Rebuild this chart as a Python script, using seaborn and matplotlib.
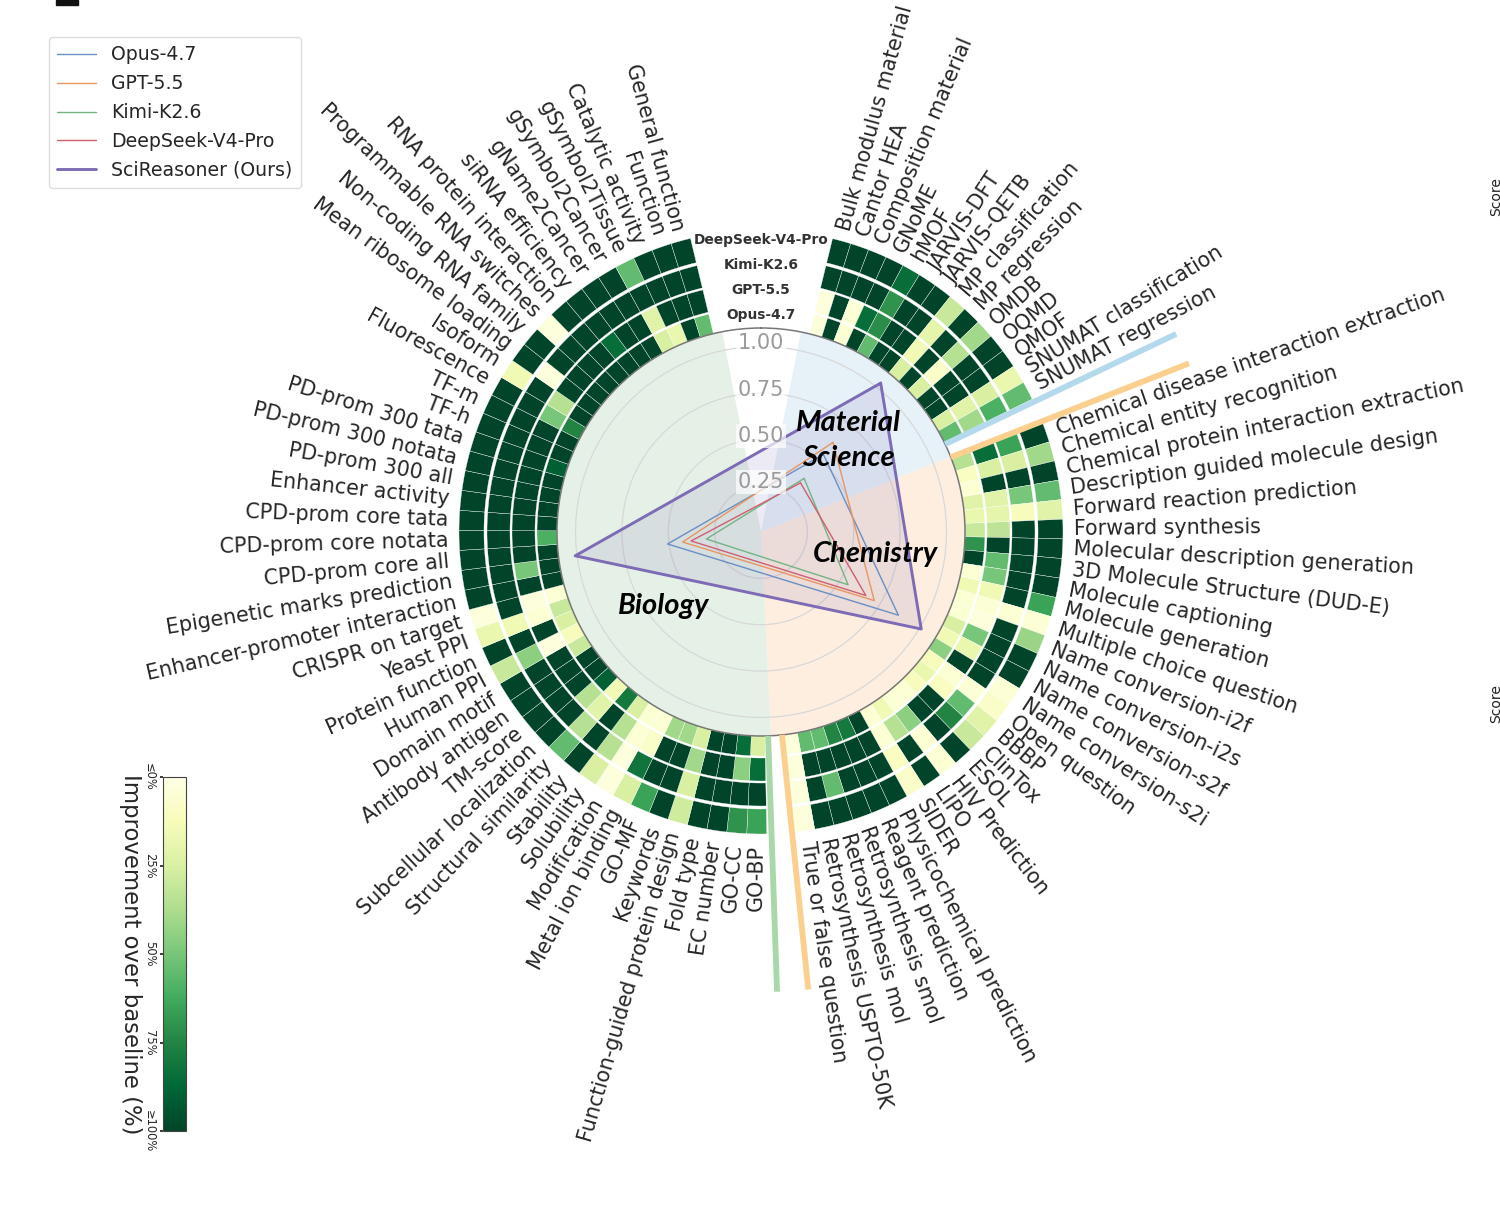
import numpy as np
import matplotlib
matplotlib.use("Agg")
import matplotlib.pyplot as plt
from matplotlib.patches import Rectangle
import seaborn as sns

# ---- data ----
models = ["Opus-4.7", "GPT-5.5", "Kimi-K2.6", "DeepSeek-V4-Pro", "SciReasoner (Ours)"]

material_labels = ["Bulk modulus material", "Cantor HEA", "Composition material", "GNoME", "hMOF",
                   "JARVIS-DFT", "JARVIS-QETB", "MP classification", "MP regression", "OMDB",
                   "OQMD", "QMOF", "SNUMAT classification", "SNUMAT regression"]
chemistry_labels = ["Chemical disease interaction extraction", "Chemical entity recognition",
                    "Chemical protein interaction extraction", "Description guided molecule design",
                    "Forward reaction prediction", "Forward synthesis", "Molecular description generation",
                    "3D Molecule Structure (DUD-E)", "Molecule captioning", "Molecule generation",
                    "Multiple choice question", "Name conversion-i2f", "Name conversion-i2s",
                    "Name conversion-s2f", "Name conversion-s2i", "Open question", "BBBP", "ClinTox",
                    "ESOL", "HIV Prediction", "LIPO", "SIDER", "Physicochemical prediction",
                    "Reagent prediction", "Retrosynthesis smol", "Retrosynthesis mol",
                    "Retrosynthesis USPTO-50K", "True or false question"]
biology_labels = ["GO-BP", "GO-CC", "EC number", "Fold type", "Function-guided protein design", "Keywords",
                  "GO-MF", "Metal ion binding", "Modification", "Solubility", "Stability",
                  "Structural similarity", "Subcellular localization", "TM-score", "Antibody antigen",
                  "Domain motif", "Human PPI", "Protein function", "Yeast PPI", "CRISPR on target",
                  "Enhancer-promoter interaction", "Epigenetic marks prediction", "CPD-prom core all",
                  "CPD-prom core notata", "CPD-prom core tata", "Enhancer activity", "PD-prom 300 all",
                  "PD-prom 300 notata", "PD-prom 300 tata", "TF-h", "TF-m", "Fluorescence", "Isoform",
                  "Mean ribosome loading", "Non-coding RNA family", "Programmable RNA switches",
                  "RNA protein interaction", "siRNA efficiency", "gName2Cancer", "gSymbol2Cancer",
                  "gSymbol2Tissue", "Catalytic activity", "Function", "General function"]

# improvement over baseline (%), clockwise within each field
material_opus = [3, 100, 5, 100, 55, 100, 100, 25, 100, 25, 100, 100, 25, 55]
material_gpt = [3, 100, 5, 85, 72, 100, 100, 15, 100, 8, 100, 100, 22, 40]
material_kimi = [100, 100, 100, 100, 70, 100, 100, 20, 100, 35, 100, 100, 25, 60]
material_deepseek = [100, 100, 100, 100, 85, 100, 100, 30, 100, 40, 100, 100, 18, 55]

chemistry_opus = [35, 10, 5, 22, 18, 30, 70, 100, 5, 15, 5, 5, 25, 15, 45, 12, 18, 12, 5, 5, 15, 5, 100, 80, 75, 55, 55, 3]
chemistry_gpt = [85, 25, 100, 22, 20, 33, 100, 55, 50, 15, 5, 3, 50, 18, 100, 5, 10, 100, 100, 45, 35, 5, 100, 100, 100, 100, 100, 3]
chemistry_kimi = [65, 25, 100, 50, 12, 100, 100, 100, 100, 100, 5, 100, 100, 100, 100, 5, 55, 75, 100, 5, 100, 10, 100, 100, 100, 55, 100, 3]
chemistry_deepseek = [100, 40, 100, 55, 22, 100, 100, 100, 100, 65, 5, 42, 100, 100, 5, 8, 22, 30, 100, 5, 100, 8, 100, 100, 100, 100, 100, 3]

biology_opus = [25, 85, 100, 100, 25, 40, 40, 5, 5, 25, 80, 15, 90, 100, 100, 30, 12, 25, 30, 5, 100, 100,
                100, 60, 100, 100, 100, 100, 90, 100, 100, 75, 100, 100, 100, 100, 100, 100, 100, 100, 25, 18, 100, 55]
biology_gpt = [85, 45, 100, 100, 40, 100, 100, 8, 5, 35, 100, 22, 35, 100, 100, 100, 3, 100, 5, 3, 100, 50,
               100, 100, 100, 100, 100, 100, 100, 100, 100, 50, 35, 100, 100, 100, 100, 85, 100, 100, 22, 100, 100, 100]
biology_kimi = [100, 100, 100, 100, 25, 100, 100, 82, 3, 35, 100, 35, 100, 100, 100, 100, 45, 100, 15, 100, 100, 100,
                100, 100, 100, 100, 100, 100, 100, 100, 100, 100, 100, 3, 100, 100, 100, 100, 100, 100, 100, 100, 100, 100]
biology_deepseek = [65, 70, 100, 100, 28, 100, 65, 25, 3, 25, 100, 55, 100, 100, 100, 100, 30, 100, 18, 3, 100, 100,
                    100, 100, 100, 100, 100, 100, 100, 100, 100, 100, 15, 100, 100, 3, 100, 100, 100, 100, 55, 100, 100, 100]

# radar scores: material, chemistry, biology
radar_opus = [0.537, 0.866, 0.508]
radar_gpt = [0.62, 0.714, 0.426]
radar_kimi = [0.371, 0.549, 0.297]
radar_deepseek = [0.34, 0.661, 0.38]
radar_sci = [1.03, 1.01, 1.01]

rticks = [0.25, 0.50, 0.75, 1.00]
cbar_ticks = [0, 25, 50, 75, 100]
cbar_ticklabels = ["≤0%", "25%", "50%", "75%", "≥100%"]

# ---- layout ----
W, H = 1500, 1218
CX, CY, RPX = 761, 532, 204
RMAX = 1.1
px = RMAX / RPX  # pixels to radial units

sns.set_theme(style="white")
plt.rcParams["font.family"] = ["DejaVu Sans"]

fig = plt.figure(figsize=(W / 100, H / 100), dpi=100)
ax = fig.add_axes([(CX - RPX) / W, 1 - (CY + RPX) / H, 2 * RPX / W, 2 * RPX / H], projection="polar")
ax.set_theta_zero_location("N")
ax.set_theta_direction(-1)
ax.set_ylim(0, RMAX)
ax.set_xticks([])
ax.set_yticks(rticks)
ax.set_yticklabels([])
ax.yaxis.grid(True, color="#d8d8d8", lw=0.9)
ax.xaxis.grid(False)
ax.spines["polar"].set_color("#777777")
ax.spines["polar"].set_linewidth(1.1)
ax.set_facecolor("white")


def fx(x):
    return x / W


def fy(y):
    return 1 - y / H


# field spans in degrees clockwise from north, from the picture
spans = [(13.7, 63.9), (68.9, 173.5), (178.9, 346.5)]
shades = [(11.3, 68.4, "#e6f1f8"), (68.4, 177.2, "#fdeee0"), (177.2, 349.0, "#e5f1e6")]
for a, b, c in shades:
    ax.bar(np.radians((a + b) / 2), RMAX, width=np.radians(b - a), bottom=0, color=c, lw=0, zorder=0.5)

# rings, inner to outer
ring_lo = np.array([204, 226, 251, 277]) * px
ring_hi = np.array([224, 249, 274, 302]) * px
field_rings = [
    [material_opus, material_gpt, material_kimi, material_deepseek],
    [chemistry_opus, chemistry_gpt, chemistry_kimi, chemistry_deepseek],
    [biology_opus, biology_gpt, biology_kimi, biology_deepseek],
]
field_labels = [material_labels, chemistry_labels, biology_labels]
cmap = sns.color_palette("YlGn", as_cmap=True)

for (a, b), rings, labels in zip(spans, field_rings, field_labels):
    step = (b - a) / len(labels)
    centers = a + step * (np.arange(len(labels)) + 0.5)
    for i, vals in enumerate(rings):
        ax.bar(np.radians(centers), ring_hi[i] - ring_lo[i], width=np.radians(step), bottom=ring_lo[i],
               color=cmap(np.array(vals) / 100), edgecolor="#ffffff", linewidth=0.25, clip_on=False, zorder=2)
    for deg, lab in zip(centers, labels):
        if deg < 180:
            rot, ha = 90 - deg, "left"
        else:
            rot, ha = 270 - deg, "right"
        ax.text(np.radians(deg), 313 * px, lab, rotation=rot, rotation_mode="anchor", ha=ha, va="center",
                fontsize=14.85, color="#262626", clip_on=False)

# divider bars
dividers = [(64.5, "#b5d9ec"), (68.5, "#fbd08e"), (174.1, "#fbd08e"), (178.0, "#a8d8a8")]
for deg, c in dividers:
    ax.plot([np.radians(deg)] * 2, [204 * px, 460 * px], color=c, lw=4.2, clip_on=False, zorder=3,
            solid_capstyle="butt")

# radar
axis_deg = [(a + b) / 2 for a, b in spans]
theta = np.radians(axis_deg + axis_deg[:1])
radar = [radar_opus, radar_gpt, radar_kimi, radar_deepseek, radar_sci]
line_colors = ["#6a8fc4", "#e8965f", "#74b483", "#cf5f6e", "#7e6bb5"]
line_widths = [1.0, 1.0, 1.0, 1.0, 2.1]
for name, vals, c, lw in zip(models, radar, line_colors, line_widths):
    rr = np.array(vals + vals[:1])
    sns.lineplot(x=theta, y=rr, sort=False, estimator=None, color=c, lw=lw, label=name, ax=ax, zorder=4)
ax.fill(theta, radar_sci + radar_sci[:1], color="#7e6bb5", alpha=0.14, lw=0, zorder=3)
ax.set_xlabel("")
ax.set_ylabel("")
ax.set_xticks([])
ax.set_ylim(0, RMAX)

for r in rticks:
    ax.text(0, r + 0.018, f"{r:.2f}", fontsize=15, color="#9a9a9a", ha="center", va="center", zorder=5,
            bbox=dict(facecolor="white", alpha=0.7, edgecolor="none", pad=1.5))

# model names over the top gap
for name, y in zip(models[3::-1], [240, 265, 290, 315]):
    fig.text(fx(761), fy(y), name, fontsize=9.9, fontweight="bold", color="#333333", ha="center", va="center")

# field names
field_text = [("Material", 848, 423), ("Science", 848, 458), ("Chemistry", 875, 554), ("Biology", 664, 606)]
for s, x, y in field_text:
    fig.text(fx(x), fy(y), s, fontsize=21, family="Lato", fontweight="bold", fontstyle="italic",
             color="black", ha="center", va="center", zorder=10)

# legend
leg = ax.legend(loc="upper left", bbox_to_anchor=(fx(49), fy(37)), bbox_transform=fig.transFigure, fontsize=13.6,
                frameon=True, borderaxespad=0, borderpad=0.45, labelspacing=0.52, handlelength=2.05,
                handletextpad=0.8, edgecolor="#dddddd", facecolor="white", framealpha=1)

# colorbar
cax = fig.add_axes([fx(163), fy(1131), 23 / W, 354 / H])
sm = plt.cm.ScalarMappable(cmap=cmap, norm=plt.Normalize(0, 100))
cb = fig.colorbar(sm, cax=cax)
cax.invert_yaxis()
cax.yaxis.set_ticks_position("left")
cax.yaxis.set_label_position("left")
cb.set_ticks(cbar_ticks)
cb.set_ticklabels(cbar_ticklabels)
cax.tick_params(axis="y", labelsize=8.3, rotation=-90, length=2, pad=3, left=True, right=False)
for t in cax.get_yticklabels():
    t.set_va("center")
cb.set_label("Improvement over baseline (%)", fontsize=16.4, rotation=270, labelpad=17)
cb.outline.set_edgecolor("#444444")
cb.outline.set_linewidth(0.8)

# bits of neighbouring panels cropped by the edges
fig.add_artist(Rectangle((fx(56), fy(5)), 22 / W, 5 / H, color="#111111", transform=fig.transFigure))
fig.text(fx(1496), fy(197), "Score", rotation=90, fontsize=10, color="#222222", ha="center", va="center")
fig.text(fx(1496), fy(704), "Score", rotation=90, fontsize=10, color="#222222", ha="center", va="center")

fig.savefig("out.png", dpi=100)
